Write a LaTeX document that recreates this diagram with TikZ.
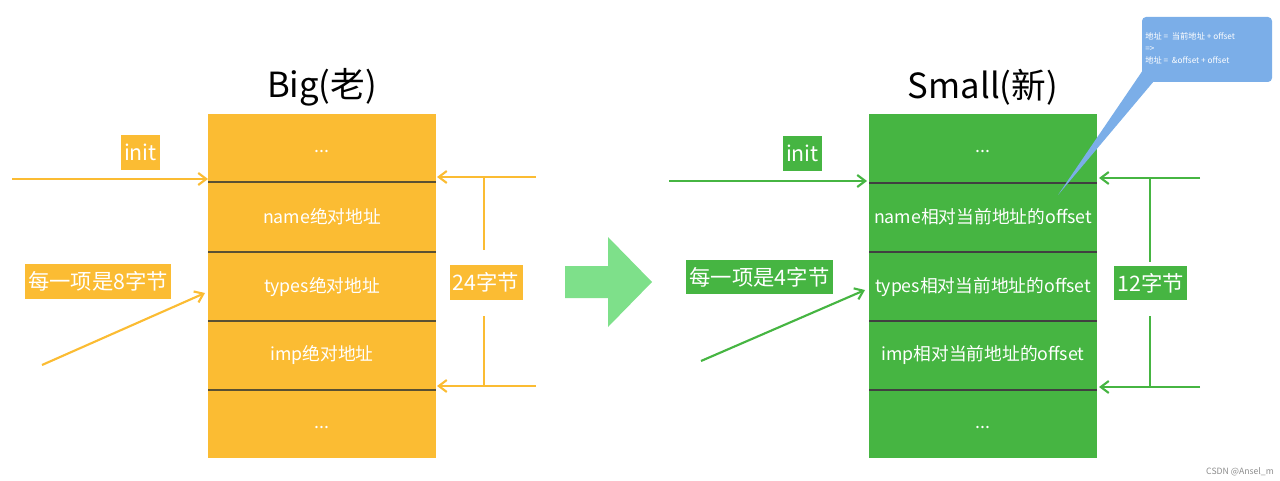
\documentclass[tikz,border=0pt]{standalone}
\usepackage{fontspec}
\setmainfont{Noto Sans CJK SC}
\usetikzlibrary{arrows.meta}
\definecolor{org}{RGB}{251,188,51}
\definecolor{grn}{RGB}{70,181,66}
\definecolor{lgrn}{RGB}{126,224,138}
\definecolor{blu}{RGB}{123,174,232}
\definecolor{divl}{RGB}{90,80,50}
\tikzset{
  cell/.style={text=white,font=\fontsize{13.3}{15}\selectfont},
  lbl/.style={text=white,inner xsep=2.5pt,inner ysep=0pt,minimum height=26pt,font=\fontsize{16}{18}\selectfont},
  ttl/.style={font=\fontsize{26}{29}\selectfont},
  arr/.style={line width=1.6pt,-{Straight Barb[length=6pt,width=9pt,line width=1.6pt]}},
  ln/.style={line width=1.6pt},
}
\begin{document}
\begin{tikzpicture}[x=0.75pt,y=-0.75pt]
\useasboundingbox (0,0) rectangle (1280,481);
% ---------- left (Big) ----------
\fill[org] (208,114) rectangle (436,458);
\foreach \yy in {182,252,321,390} \draw[divl,line width=0.8pt] (208,\yy) -- (436,\yy);
\node[ttl] (tbig) at (322,87) {Big(老)};
\node[cell] (b0) at (322,151) {...};
\node[cell] (b1) at (322,217) {name绝对地址};
\node[cell] (b2) at (322,287) {types绝对地址};
\node[cell] (b3) at (322,355) {imp绝对地址};
\node[cell] (b4) at (322,427) {...};
\node[lbl,fill=org] (binit) at (140.5,152.5) {init};
\node[lbl,fill=org] (bitem) at (98,281.5) {每一项是8字节};
\node[lbl,fill=org] (b24) at (486,282.5) {24字节};
\coordinate (bs1) at (12,179); \coordinate (be1) at (208,179);
\draw[org,arr] (bs1) -- (be1);
\coordinate (bs2) at (42,365); \coordinate (be2) at (205,293);
\draw[org,arr] (bs2) -- (be2);
\coordinate (br1) at (536,177); \coordinate (bt1) at (437,177);
\coordinate (br2) at (536,386); \coordinate (bt2) at (437,386);
\draw[org,arr] (br1) -- (bt1);
\draw[org,arr] (br2) -- (bt2);
\draw[org,ln] (484,177) -- (484,250);
\draw[org,ln] (484,316) -- (484,386);
% ---------- middle arrow ----------
\fill[lgrn] (565,266) -- (608,266) -- (608,237) -- (652,282) -- (608,327) -- (608,298) -- (565,298) -- cycle;
% ---------- right (Small) ----------
\fill[grn] (869,114) rectangle (1097,458);
\foreach \yy in {183,252,321,390} \draw[black!75,line width=0.8pt] (869,\yy) -- (1097,\yy);
\node[ttl] (tsmall) at (983,87) {Small(新)};
\node[cell] (s0) at (983,151) {...};
\node[cell] (s1) at (983,217) {name相对当前地址的offset};
\node[cell] (s2) at (983,287) {types相对当前地址的offset};
\node[cell] (s3) at (983,355) {imp相对当前地址的offset};
\node[cell] (s4) at (983,427) {...};
\node[lbl,fill=grn] (sinit) at (802.5,153.5) {init};
\node[lbl,fill=grn] (sitem) at (759.5,277) {每一项是4字节};
\node[lbl,fill=grn] (s12) at (1150.5,283) {12字节};
\coordinate (ss1) at (669,181); \coordinate (se1) at (867,181);
\draw[grn,arr] (ss1) -- (se1);
\coordinate (ss2) at (701,361); \coordinate (se2) at (865,290);
\draw[grn,arr] (ss2) -- (se2);
\coordinate (sr1) at (1200,178); \coordinate (st1) at (1099,178);
\coordinate (sr2) at (1200,387); \coordinate (st2) at (1099,387);
\draw[grn,arr] (sr1) -- (st1);
\draw[grn,arr] (sr2) -- (st2);
\draw[grn,ln] (1150,178) -- (1150,262);
\draw[grn,ln] (1150,316) -- (1150,387);
% ---------- callout ----------
\fill[blu,rounded corners=3pt] (1142,17) rectangle (1272,82);
\fill[blu] (1143,70) -- (1058,195) -- (1154,81) -- (1143,81) -- cycle;
\node[text=white,anchor=north west,align=left,inner sep=0pt,font=\fontsize{6.2}{9}\selectfont] (callt) at (1145,32) {地址 =\ \ 当前地址 + offset\\=>\\地址 =\ \ \&offset + offset};
% ---------- watermark ----------
\node[text=black!45,font=\fontsize{6.5}{8}\selectfont] (wm) at (1240,472) {CSDN @Ansel\_m};
\end{tikzpicture}
\end{document}
